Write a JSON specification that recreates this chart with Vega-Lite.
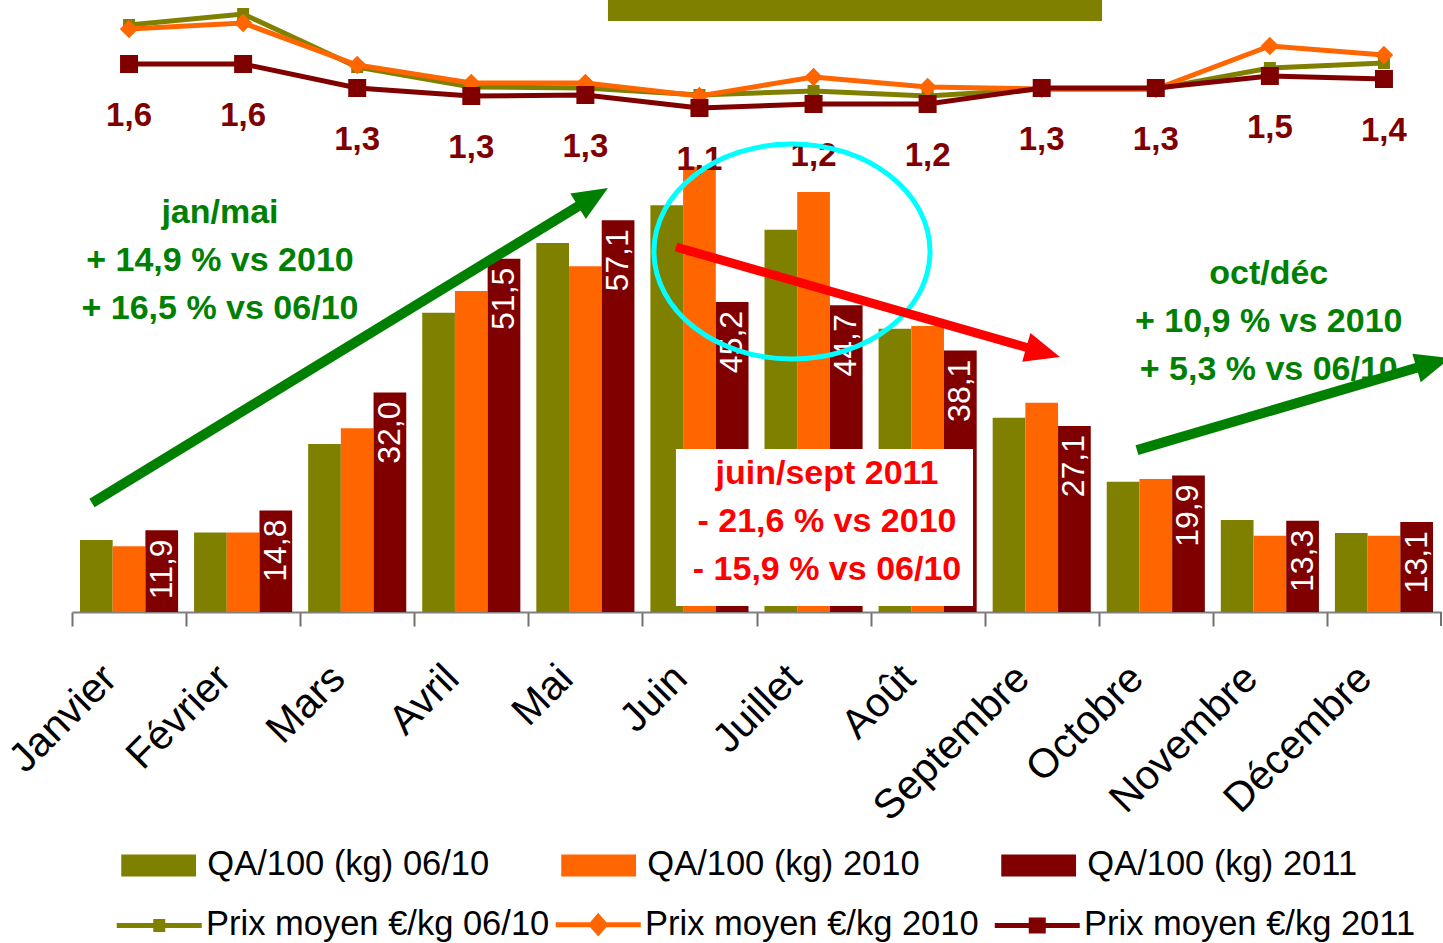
{
  "$schema": "https://vega.github.io/schema/vega-lite/v6.json",
  "width": 1369,
  "height": 612,
  "autosize": {"type": "none"},
  "padding": {"left": 72, "top": 0, "right": 2, "bottom": 331},
  "background": "white",
  "config": {
    "view": {"stroke": null},
    "locale": {"number": {"decimal": ",", "thousands": " ", "grouping": [3], "currency": ["", " €"]}}
  },
  "datasets": {
    "qa": [
      {"mois": "Janvier", "serie": "QA/100 (kg) 06/10", "qa": 10.5},
      {"mois": "Janvier", "serie": "QA/100 (kg) 2010", "qa": 9.6},
      {"mois": "Janvier", "serie": "QA/100 (kg) 2011", "qa": 11.9},
      {"mois": "Février", "serie": "QA/100 (kg) 06/10", "qa": 11.6},
      {"mois": "Février", "serie": "QA/100 (kg) 2010", "qa": 11.6},
      {"mois": "Février", "serie": "QA/100 (kg) 2011", "qa": 14.8},
      {"mois": "Mars", "serie": "QA/100 (kg) 06/10", "qa": 24.5},
      {"mois": "Mars", "serie": "QA/100 (kg) 2010", "qa": 26.8},
      {"mois": "Mars", "serie": "QA/100 (kg) 2011", "qa": 32.0},
      {"mois": "Avril", "serie": "QA/100 (kg) 06/10", "qa": 43.6},
      {"mois": "Avril", "serie": "QA/100 (kg) 2010", "qa": 46.8},
      {"mois": "Avril", "serie": "QA/100 (kg) 2011", "qa": 51.5},
      {"mois": "Mai", "serie": "QA/100 (kg) 06/10", "qa": 53.8},
      {"mois": "Mai", "serie": "QA/100 (kg) 2010", "qa": 50.4},
      {"mois": "Mai", "serie": "QA/100 (kg) 2011", "qa": 57.1},
      {"mois": "Juin", "serie": "QA/100 (kg) 06/10", "qa": 59.3},
      {"mois": "Juin", "serie": "QA/100 (kg) 2010", "qa": 64.9},
      {"mois": "Juin", "serie": "QA/100 (kg) 2011", "qa": 45.2},
      {"mois": "Juillet", "serie": "QA/100 (kg) 06/10", "qa": 55.7},
      {"mois": "Juillet", "serie": "QA/100 (kg) 2010", "qa": 61.2},
      {"mois": "Juillet", "serie": "QA/100 (kg) 2011", "qa": 44.7},
      {"mois": "Août", "serie": "QA/100 (kg) 06/10", "qa": 41.3},
      {"mois": "Août", "serie": "QA/100 (kg) 2010", "qa": 41.7},
      {"mois": "Août", "serie": "QA/100 (kg) 2011", "qa": 38.1},
      {"mois": "Septembre", "serie": "QA/100 (kg) 06/10", "qa": 28.3},
      {"mois": "Septembre", "serie": "QA/100 (kg) 2010", "qa": 30.5},
      {"mois": "Septembre", "serie": "QA/100 (kg) 2011", "qa": 27.1},
      {"mois": "Octobre", "serie": "QA/100 (kg) 06/10", "qa": 19.0},
      {"mois": "Octobre", "serie": "QA/100 (kg) 2010", "qa": 19.4},
      {"mois": "Octobre", "serie": "QA/100 (kg) 2011", "qa": 19.9},
      {"mois": "Novembre", "serie": "QA/100 (kg) 06/10", "qa": 13.4},
      {"mois": "Novembre", "serie": "QA/100 (kg) 2010", "qa": 11.1},
      {"mois": "Novembre", "serie": "QA/100 (kg) 2011", "qa": 13.3},
      {"mois": "Décembre", "serie": "QA/100 (kg) 06/10", "qa": 11.5},
      {"mois": "Décembre", "serie": "QA/100 (kg) 2010", "qa": 11.1},
      {"mois": "Décembre", "serie": "QA/100 (kg) 2011", "qa": 13.1}
    ],
    "prix": [
      {"mois": "Janvier", "serie": "Prix moyen €/kg 06/10", "prix": 1.97},
      {"mois": "Février", "serie": "Prix moyen €/kg 06/10", "prix": 2.08},
      {"mois": "Mars", "serie": "Prix moyen €/kg 06/10", "prix": 1.55},
      {"mois": "Avril", "serie": "Prix moyen €/kg 06/10", "prix": 1.35},
      {"mois": "Mai", "serie": "Prix moyen €/kg 06/10", "prix": 1.34},
      {"mois": "Juin", "serie": "Prix moyen €/kg 06/10", "prix": 1.27},
      {"mois": "Juillet", "serie": "Prix moyen €/kg 06/10", "prix": 1.31},
      {"mois": "Août", "serie": "Prix moyen €/kg 06/10", "prix": 1.26},
      {"mois": "Septembre", "serie": "Prix moyen €/kg 06/10", "prix": 1.33},
      {"mois": "Octobre", "serie": "Prix moyen €/kg 06/10", "prix": 1.33},
      {"mois": "Novembre", "serie": "Prix moyen €/kg 06/10", "prix": 1.54},
      {"mois": "Décembre", "serie": "Prix moyen €/kg 06/10", "prix": 1.59},
      {"mois": "Janvier", "serie": "Prix moyen €/kg 2010", "prix": 1.93},
      {"mois": "Février", "serie": "Prix moyen €/kg 2010", "prix": 1.99},
      {"mois": "Mars", "serie": "Prix moyen €/kg 2010", "prix": 1.57},
      {"mois": "Avril", "serie": "Prix moyen €/kg 2010", "prix": 1.39},
      {"mois": "Mai", "serie": "Prix moyen €/kg 2010", "prix": 1.39},
      {"mois": "Juin", "serie": "Prix moyen €/kg 2010", "prix": 1.26},
      {"mois": "Juillet", "serie": "Prix moyen €/kg 2010", "prix": 1.45},
      {"mois": "Août", "serie": "Prix moyen €/kg 2010", "prix": 1.35},
      {"mois": "Septembre", "serie": "Prix moyen €/kg 2010", "prix": 1.33},
      {"mois": "Octobre", "serie": "Prix moyen €/kg 2010", "prix": 1.33},
      {"mois": "Novembre", "serie": "Prix moyen €/kg 2010", "prix": 1.76},
      {"mois": "Décembre", "serie": "Prix moyen €/kg 2010", "prix": 1.67},
      {"mois": "Janvier", "serie": "Prix moyen €/kg 2011", "prix": 1.58},
      {"mois": "Février", "serie": "Prix moyen €/kg 2011", "prix": 1.58},
      {"mois": "Mars", "serie": "Prix moyen €/kg 2011", "prix": 1.34},
      {"mois": "Avril", "serie": "Prix moyen €/kg 2011", "prix": 1.26},
      {"mois": "Mai", "serie": "Prix moyen €/kg 2011", "prix": 1.27},
      {"mois": "Juin", "serie": "Prix moyen €/kg 2011", "prix": 1.14},
      {"mois": "Juillet", "serie": "Prix moyen €/kg 2011", "prix": 1.18},
      {"mois": "Août", "serie": "Prix moyen €/kg 2011", "prix": 1.18},
      {"mois": "Septembre", "serie": "Prix moyen €/kg 2011", "prix": 1.34},
      {"mois": "Octobre", "serie": "Prix moyen €/kg 2011", "prix": 1.34},
      {"mois": "Novembre", "serie": "Prix moyen €/kg 2011", "prix": 1.46},
      {"mois": "Décembre", "serie": "Prix moyen €/kg 2011", "prix": 1.43}
    ]
  },
  "resolve": {"scale": {"x": "independent", "y": "independent"}},
  "layer": [
    {
      "data": {"name": "qa"},
      "layer": [
        {
          "mark": {"type": "bar"},
          "encoding": {
            "x": {
              "field": "mois", "type": "nominal",
              "sort": ["Janvier", "Février", "Mars", "Avril", "Mai", "Juin", "Juillet", "Août", "Septembre", "Octobre", "Novembre", "Décembre"],
              "scale": {"paddingInner": 0.14, "paddingOuter": 0.07},
              "axis": {
                "title": null, "grid": false, "labelAngle": -45, "labelAlign": "right", "labelBaseline": "middle",
                "labelFont": "Liberation Sans", "labelFontSize": 41, "labelColor": "black", "labelPadding": 46,
                "labelLimit": 500, "labelOverlap": false,
                "tickSize": 14, "tickWidth": 2, "tickColor": "#707070", "domainColor": "#808080", "domainWidth": 2,
                "tickOffset": -57.04, "labelOffset": 38
              }
            },
            "xOffset": {"field": "serie", "type": "nominal", "sort": ["QA/100 (kg) 06/10", "QA/100 (kg) 2010", "QA/100 (kg) 2011"]},
            "y": {"field": "qa", "type": "quantitative", "scale": {"domain": [0, 89.2], "nice": false}, "axis": null},
            "fill": {
              "field": "serie", "type": "nominal",
              "scale": {"domain": ["QA/100 (kg) 06/10", "QA/100 (kg) 2010", "QA/100 (kg) 2011"], "range": ["#808000", "#FF6600", "#800000"]},
              "legend": {
                "orient": "none", "legendX": 95.8, "legendY": 848, "direction": "horizontal", "columns": 3,
                "gridAlign": "all", "columnPadding": 71, "title": null,
                "symbolType": "M-5.8,-1H1V1H-5.8Z", "symbolSize": 484, "symbolStrokeWidth": 0,
                "labelFont": "Liberation Sans", "labelFontSize": 34.5, "labelColor": "black", "labelOffset": 5, "labelLimit": 500
              }
            }
          }
        },
        {
          "transform": [{"filter": "datum.serie === 'QA/100 (kg) 2011'"}],
          "mark": {"type": "text", "angle": 270, "align": "right", "baseline": "middle", "dx": -9, "color": "white",
                   "font": "Liberation Sans", "fontSize": 32},
          "encoding": {
            "x": {"field": "mois", "type": "nominal", "sort": ["Janvier", "Février", "Mars", "Avril", "Mai", "Juin", "Juillet", "Août", "Septembre", "Octobre", "Novembre", "Décembre"]},
            "xOffset": {"field": "serie", "type": "nominal", "sort": ["QA/100 (kg) 06/10", "QA/100 (kg) 2010", "QA/100 (kg) 2011"]},
            "y": {"field": "qa", "type": "quantitative"},
            "text": {"field": "qa", "type": "quantitative", "format": ".1f"}
          }
        }
      ]
    },
    {
      "data": {"name": "prix"},
      "encoding": {
        "x": {"field": "mois", "type": "nominal",
              "sort": ["Janvier", "Février", "Mars", "Avril", "Mai", "Juin", "Juillet", "Août", "Septembre", "Octobre", "Novembre", "Décembre"],
              "scale": {"type": "point", "padding": 0.5}, "axis": null},
        "y": {"field": "prix", "type": "quantitative", "scale": {"domain": [-3.9, 2.22], "nice": false, "zero": false}, "axis": null}
      },
      "layer": [
        {
          "transform": [{"filter": "datum.serie === 'Prix moyen €/kg 06/10'"}],
          "mark": {"type": "line", "strokeWidth": 5},
          "encoding": {
            "color": {
              "field": "serie", "type": "nominal",
              "scale": {"domain": ["Prix moyen €/kg 06/10", "Prix moyen €/kg 2010", "Prix moyen €/kg 2011"], "range": ["#808000", "#FF6600", "#800000"]},
              "legend": {
                "orient": "none", "legendX": 102.5, "legendY": 907, "direction": "horizontal", "columns": 3,
                "gridAlign": "all", "columnPadding": -4, "title": null,
                "symbolType": "M-7.5,0H1M-3.85,-0.55H-2.65V0.55H-3.85Z", "symbolSize": 400, "symbolStrokeWidth": 5,
                "labelFont": "Liberation Sans", "labelFontSize": 34.5, "labelColor": "black", "labelOffset": -3, "labelLimit": 500,
                "encode": {"symbols": {"update": {
                  "fill": {"scale": "color", "field": "value"},
                  "stroke": {"scale": "color", "field": "value"},
                  "shape": {"signal": "datum.value === 'Prix moyen €/kg 2010' ? 'M-7.5,0H1M-3.25,-0.8L-2.55,0L-3.25,0.8L-3.95,0Z' : (datum.value === 'Prix moyen €/kg 06/10' ? 'M-7.5,0H1M-3.6,-0.4H-2.9V0.4H-3.6Z' : 'M-7.5,0H1M-3.85,-0.55H-2.65V0.55H-3.85Z')"}
                }}}
              }
            }
          }
        },
        {
          "transform": [{"filter": "datum.serie === 'Prix moyen €/kg 06/10'"}],
          "mark": {"type": "point", "shape": "square", "filled": true, "size": 144, "color": "#808000", "opacity": 1}
        },
        {
          "transform": [{"filter": "datum.serie === 'Prix moyen €/kg 2010'"}],
          "mark": {"type": "line", "strokeWidth": 5},
          "encoding": {"color": {"field": "serie", "type": "nominal"}}
        },
        {
          "transform": [{"filter": "datum.serie === 'Prix moyen €/kg 2010'"}],
          "mark": {"type": "point", "shape": "diamond", "filled": true, "size": 340, "color": "#FF6600", "opacity": 1}
        },
        {
          "transform": [{"filter": "datum.serie === 'Prix moyen €/kg 2011'"}],
          "mark": {"type": "line", "strokeWidth": 5},
          "encoding": {"color": {"field": "serie", "type": "nominal"}}
        },
        {
          "transform": [{"filter": "datum.serie === 'Prix moyen €/kg 2011'"}],
          "mark": {"type": "point", "shape": "square", "filled": true, "size": 324, "color": "#800000", "opacity": 1}
        },
        {
          "transform": [{"filter": "datum.serie === 'Prix moyen €/kg 2011'"}],
          "mark": {"type": "text", "dy": 52, "align": "center", "baseline": "middle", "color": "#800000",
                   "font": "Liberation Sans", "fontWeight": "bold", "fontSize": 33},
          "encoding": {"text": {"field": "prix", "type": "quantitative", "format": ".1f"}}
        }
      ]
    },
    {
      "encoding": {
        "x": {"field": "x", "type": "quantitative", "scale": {"domain": [0, 12], "nice": false, "zero": false}, "axis": null},
        "y": {"field": "y", "type": "quantitative", "scale": {"domain": [0, 89.2], "nice": false, "zero": false}, "axis": null}
      },
      "layer": [
        {
          "data": {"values": [{"x": 12, "y": 0, "y2": -2.04}]},
          "mark": {"type": "rule", "color": "#707070", "strokeWidth": 2},
          "encoding": {"y2": {"field": "y2"}}
        },
        {
          "data": {"values": [{"x": 4.698, "x2": 9.029, "y": 86.14, "y2": 89.2}]},
          "mark": {"type": "rect", "color": "#808000"},
          "encoding": {"x2": {"field": "x2"}, "y2": {"field": "y2"}}
        },
        {
          "data": {"values": [{"x": 5.294, "x2": 7.898, "y": 0.87, "y2": 23.76}]},
          "mark": {"type": "rect", "color": "white"},
          "encoding": {"x2": {"field": "x2"}, "y2": {"field": "y2"}}
        },
        {
          "data": {"values": [
            {"x": 1.297, "y": 58.15, "t": "jan/mai"},
            {"x": 1.297, "y": 51.16, "t": "+ 14,9 % vs 2010"},
            {"x": 1.297, "y": 44.16, "t": "+ 16,5 % vs 06/10"},
            {"x": 10.49, "y": 49.27, "t": "oct/déc"},
            {"x": 10.49, "y": 42.27, "t": "+ 10,9 % vs 2010"},
            {"x": 10.49, "y": 35.27, "t": "+ 5,3 % vs 06/10"}
          ]},
          "mark": {"type": "text", "align": "center", "baseline": "middle", "color": "#008000",
                   "font": "Liberation Sans", "fontWeight": "bold", "fontSize": 34},
          "encoding": {"text": {"field": "t"}}
        },
        {
          "data": {"values": [
            {"x": 6.618, "y": 20.11, "t": "juin/sept 2011"},
            {"x": 6.618, "y": 13.12, "t": "- 21,6 % vs 2010"},
            {"x": 6.618, "y": 6.12, "t": "- 15,9 % vs 06/10"}
          ]},
          "mark": {"type": "text", "align": "center", "baseline": "middle", "color": "#FF0000",
                   "font": "Liberation Sans", "fontWeight": "bold", "fontSize": 34},
          "encoding": {"text": {"field": "t"}}
        },
        {
          "data": {"values": [{"x": 6.311, "y": 52.54}]},
          "mark": {"type": "point", "shape": "M-1.284,0A1.284,1 0 1,0 1.284,0A1.284,1 0 1,0 -1.284,0Z", "size": 46225,
                   "filled": false, "stroke": "#00FFFF", "strokeWidth": 5, "opacity": 1}
        },
        {
          "data": {"values": [
            {"x": 0.175, "y": 15.9, "x2": 4.512, "y2": 59.9},
            {"x": 9.335, "y": 23.6, "x2": 11.869, "y2": 36.0}
          ]},
          "mark": {"type": "rule", "color": "#008000", "strokeWidth": 10, "strokeCap": "butt"},
          "encoding": {"x2": {"field": "x2"}, "y2": {"field": "y2"}}
        },
        {
          "data": {"values": [{"x": 5.294, "y": 53.2, "x2": 8.45, "y2": 38.17}]},
          "mark": {"type": "rule", "color": "#FF0000", "strokeWidth": 9, "strokeCap": "butt"},
          "encoding": {"x2": {"field": "x2"}, "y2": {"field": "y2"}}
        },
        {
          "data": {"values": [{"x": 4.698, "y": 61.8}]},
          "mark": {"type": "point", "shape": "M0,0L-2,-0.85L-2,0.85Z", "size": 1225, "filled": true, "color": "#008000", "opacity": 1, "angle": 328.6}
        },
        {
          "data": {"values": [{"x": 12.08, "y": 37.0}]},
          "mark": {"type": "point", "shape": "M0,0L-2,-0.85L-2,0.85Z", "size": 1225, "filled": true, "color": "#008000", "opacity": 1, "angle": 343.6}
        },
        {
          "data": {"values": [{"x": 8.66, "y": 37.17}]},
          "mark": {"type": "point", "shape": "M0,0L-2,-0.85L-2,0.85Z", "size": 1225, "filled": true, "color": "#FF0000", "opacity": 1, "angle": 16}
        }
      ]
    }
  ]
}
